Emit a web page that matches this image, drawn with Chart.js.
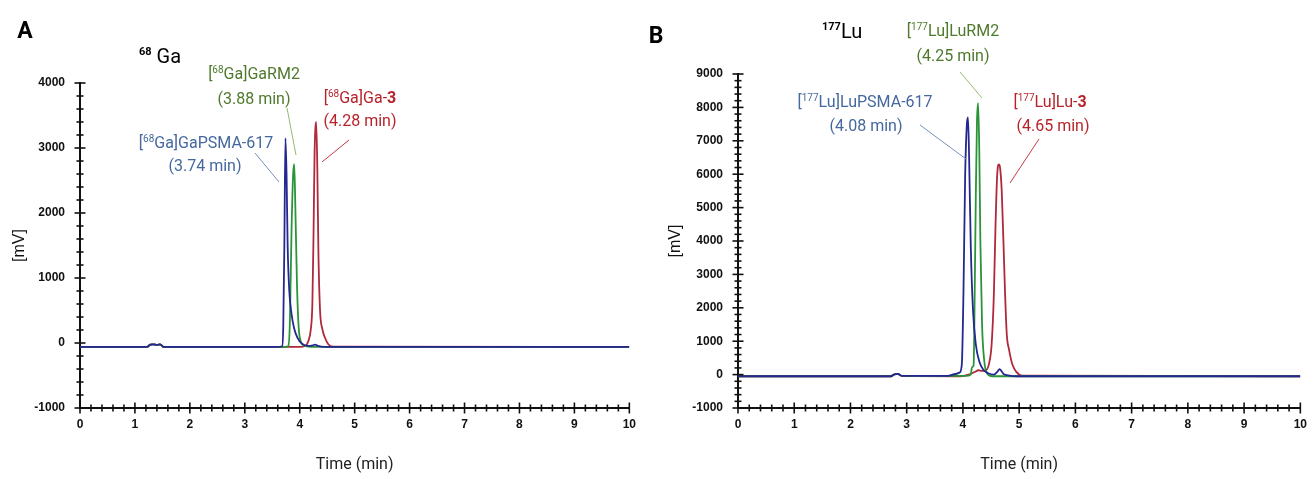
<!DOCTYPE html>
<html>
<head>
<meta charset="utf-8">
<script src="https://cdn.jsdelivr.net/npm/chart.js@4.4.1/dist/chart.umd.min.js"></script>
<style>
  html, body { margin: 0; padding: 0; background: #fff; }
  body { width: 1316px; height: 479px; position: relative; overflow: hidden; }
  canvas { position: absolute; top: 0; }
  #CanvasA { left: 0; }
  #CanvasB { left: 645px; }
</style>
</head>
<body>
<canvas id="CanvasA" width="645" height="479"></canvas>
<canvas id="CanvasB" width="671" height="479"></canvas>
<script>
// tick labels
var xTickLabels = [0, 1, 2, 3, 4, 5, 6, 7, 8, 9, 10];
var yTickLabelsA = [-1000, 0, 1000, 2000, 3000, 4000];
var yTickLabelsB = [-1000, 0, 1000, 2000, 3000, 4000, 5000, 6000, 7000, 8000, 9000];

// 68Ga traces (time in min, signal in mV)
var gaPsmaTime = [0, 1.22, 1.28, 1.34, 1.40, 1.46, 1.52, 3.60, 3.68, 3.70, 3.72, 3.74, 3.76, 3.78, 3.81, 3.85, 3.90, 3.96, 4.04, 4.15, 4.24, 4.28, 4.33, 4.45, 10];
var gaPsmaMv   = [-60, -60, -25, -20, -30, -22, -60, -60, -50, 250, 1500, 3150, 2600, 1500, 800, 450, 220, 80, -10, -45, -35, -25, -45, -60, -60];
var gaRm2Time  = [0, 1.22, 1.28, 1.34, 1.40, 1.46, 1.52, 3.74, 3.79, 3.82, 3.85, 3.88, 3.90, 3.92, 3.95, 3.98, 4.02, 4.08, 4.20, 10];
var gaRm2Mv    = [-60, -60, -25, -20, -30, -22, -60, -60, -50, 300, 1700, 2600, 2750, 2100, 900, 250, 20, -40, -60, -60];
var ga3Time    = [0, 1.22, 1.28, 1.34, 1.40, 1.46, 1.52, 4.00, 4.10, 4.16, 4.20, 4.23, 4.25, 4.27, 4.30, 4.32, 4.34, 4.37, 4.41, 4.46, 4.52, 4.60, 10];
var ga3Mv      = [-60, -60, -25, -20, -30, -22, -60, -60, -45, 40, 200, 600, 1600, 2900, 3400, 2700, 1400, 500, 220, 80, -20, -55, -60];

// 177Lu traces
var luPsmaTime = [0, 2.72, 2.78, 2.84, 2.92, 3.70, 3.85, 3.94, 3.98, 4.01, 4.04, 4.07, 4.09, 4.11, 4.14, 4.18, 4.23, 4.29, 4.36, 4.45, 4.55, 4.61, 4.65, 4.68, 4.72, 4.80, 4.95, 10];
var luPsmaMv   = [-50, -50, 10, 20, -40, -40, 10, 60, 300, 2500, 6000, 7500, 7700, 6500, 3800, 1900, 900, 400, 150, 40, 0, 80, 160, 120, 20, -20, -50, -50];
var luRm2Time  = [0, 2.72, 2.78, 2.84, 2.92, 4.05, 4.14, 4.16, 4.19, 4.21, 4.23, 4.25, 4.27, 4.29, 4.31, 4.34, 4.38, 4.43, 4.52, 10];
var luRm2Mv    = [-50, -50, 10, 20, -40, -40, 0, 220, 280, 2500, 5500, 7600, 8130, 6800, 4000, 1500, 400, 40, -50, -50];
var lu3Time    = [0, 2.72, 2.78, 2.84, 2.92, 3.95, 4.10, 4.20, 4.28, 4.34, 4.40, 4.46, 4.51, 4.55, 4.58, 4.61, 4.64, 4.66, 4.69, 4.72, 4.75, 4.78, 4.82, 4.88, 4.95, 5.05, 10];
var lu3Mv      = [-50, -50, 10, 20, -40, -50, 0, 70, 130, 110, 120, 300, 900, 2400, 4500, 6000, 6290, 6200, 5500, 4000, 2400, 1200, 750, 300, 80, -30, -50];

var BLUE = '#23278f', GREEN = '#2a9438', RED = '#b0283a';
var TXT_BLUE = '#45689e', TXT_GREEN = '#4f7a2c', TXT_RED = '#b8232b';

function toPoints(t, v) {
    return t.map(function (x, i) { return { x: x, y: v[i] }; });
}

// annotation texts and leader lines, canvas pixels
var notes = {
    CanvasA: {
        texts: [
            { x: 25, y: 38, align: 'center', color: '#000', parts: [{ t: 'A', size: 23, bold: true }] },
            { x: 139, y: 63, align: 'left', color: '#000', parts: [{ t: '68', size: 11, bold: true, rise: 8 }, { t: ' Ga', size: 20 }] },
            { x: 254, y: 79, color: TXT_GREEN, parts: [{ t: '[' }, { t: '68', sup: true }, { t: 'Ga]GaRM2' }] },
            { x: 254, y: 104, color: TXT_GREEN, parts: [{ t: '(3.88 min)' }] },
            { x: 206, y: 148, color: TXT_BLUE, parts: [{ t: '[' }, { t: '68', sup: true }, { t: 'Ga]GaPSMA-617' }] },
            { x: 205, y: 171, color: TXT_BLUE, parts: [{ t: '(3.74 min)' }] },
            { x: 360, y: 103, color: TXT_RED, parts: [{ t: '[' }, { t: '68', sup: true }, { t: 'Ga]Ga-' }, { t: '3', bold: true }] },
            { x: 360, y: 126, color: TXT_RED, parts: [{ t: '(4.28 min)' }] }
        ],
        lines: [
            { c: '#97b873', a: [287, 108], b: [296, 155] },
            { c: '#7590bd', a: [255, 153], b: [279, 182] },
            { c: '#c63a44', a: [349, 140], b: [322, 162] }
        ]
    },
    CanvasB: {
        texts: [
            { x: 11, y: 43, align: 'center', color: '#000', parts: [{ t: 'B', size: 23, bold: true }] },
            { x: 177, y: 38, align: 'left', color: '#000', parts: [{ t: '177', size: 11, bold: true, rise: 8 }, { t: 'Lu', size: 20 }] },
            { x: 308, y: 36, color: TXT_GREEN, parts: [{ t: '[' }, { t: '177', sup: true }, { t: 'Lu]LuRM2' }] },
            { x: 308, y: 61, color: TXT_GREEN, parts: [{ t: '(4.25 min)' }] },
            { x: 220, y: 107, color: TXT_BLUE, parts: [{ t: '[' }, { t: '177', sup: true }, { t: 'Lu]LuPSMA-617' }] },
            { x: 221, y: 131, color: TXT_BLUE, parts: [{ t: '(4.08 min)' }] },
            { x: 405, y: 107, color: TXT_RED, parts: [{ t: '[' }, { t: '177', sup: true }, { t: 'Lu]Lu-' }, { t: '3', bold: true }] },
            { x: 408, y: 131, color: TXT_RED, parts: [{ t: '(4.65 min)' }] }
        ],
        lines: [
            { c: '#97b873', a: [315, 72], b: [337, 98] },
            { c: '#7590bd', a: [275, 125], b: [321, 159] },
            { c: '#c63a44', a: [394, 139], b: [365, 183] }
        ]
    }
};

function fontOf(p) {
    var size = p.size || (p.sup ? 10 : 16);
    return (p.bold ? 'bold ' : '') + size + 'px Roboto, "Noto Sans", sans-serif';
}

function drawRich(ctx, n) {
    var w = 0;
    n.parts.forEach(function (p) { ctx.font = fontOf(p); w += ctx.measureText(p.t).width; });
    var x = n.align === 'left' ? n.x : n.x - w / 2;
    ctx.fillStyle = n.color;
    ctx.textBaseline = 'alphabetic';
    ctx.textAlign = 'left';
    n.parts.forEach(function (p) {
        ctx.font = fontOf(p);
        var rise = p.rise || (p.sup ? 6 : 0);
        ctx.fillText(p.t, x, n.y - rise);
        x += ctx.measureText(p.t).width;
    });
}

var notesPlugin = {
    id: 'notes',
    afterDraw: function (chart) {
        var cfg = notes[chart.canvas.id];
        var ctx = chart.ctx;
        ctx.save();
        ctx.lineWidth = 1;
        cfg.lines.forEach(function (l) {
            ctx.strokeStyle = l.c;
            ctx.beginPath();
            ctx.moveTo(l.a[0], l.a[1]);
            ctx.lineTo(l.b[0], l.b[1]);
            ctx.stroke();
        });
        cfg.texts.forEach(function (n) { drawRich(ctx, n); });
        ctx.restore();
    }
};

// tick marks that cross the axis line, longer at labelled values
var crossTicks = {
    id: 'crossTicks',
    afterDraw: function (chart) {
        var ctx = chart.ctx, area = chart.chartArea;
        var xs = chart.scales.x, ys = chart.scales.y;
        var yLabels = chart.canvas.id === 'CanvasA' ? yTickLabelsA : yTickLabelsB;
        ctx.save();
        ctx.strokeStyle = '#111';
        ctx.lineWidth = 1.6;
        xs.ticks.forEach(function (t) {
            var px = xs.getPixelForValue(t.value);
            var h = xTickLabels.indexOf(t.value) >= 0 ? 5.5 : 3.5;
            ctx.beginPath();
            ctx.moveTo(px, area.bottom - h);
            ctx.lineTo(px, area.bottom + h);
            ctx.stroke();
        });
        ys.ticks.forEach(function (t) {
            var py = ys.getPixelForValue(t.value);
            var h = yLabels.indexOf(t.value) >= 0 ? 5.5 : 3.5;
            ctx.beginPath();
            ctx.moveTo(area.left - h, py);
            ctx.lineTo(area.left + h, py);
            ctx.stroke();
        });
        ctx.restore();
    }
};

var tickFont = { family: '"Liberation Sans", Arial, sans-serif', size: 12, weight: 'bold' };

function makeChart(id, sets, yLabels, box) {
    var GKChart = document.getElementById(id).getContext('2d');
    return new Chart(GKChart, {
        type: 'line',
        data: {
            datasets: sets.map(function (s) {
                return {
                    data: toPoints(s.t, s.v),
                    borderColor: s.c,
                    borderWidth: 1.8,
                    pointRadius: 0,
                    fill: false,
                    cubicInterpolationMode: 'monotone'
                };
            })
        },
        options: {
            responsive: false,
            animation: false,
            devicePixelRatio: 1,
            layout: { padding: { left: 0, top: box.top, right: box.right, bottom: 0 } },
            plugins: { legend: { display: false }, tooltip: { enabled: false } },
            scales: {
                x: {
                    type: 'linear', min: 0, max: 10,
                    afterFit: function (s) { s.height = 71; },
                    ticks: {
                        stepSize: 0.2, maxTicksLimit: 100, autoSkip: false, maxRotation: 0,
                        padding: 9, color: '#111', font: tickFont,
                        callback: function (v) { return xTickLabels.indexOf(v) >= 0 ? String(v) : ''; }
                    },
                    grid: { display: true, drawOnChartArea: false, drawTicks: false },
                    border: { display: true, color: '#111', width: 2 },
                    title: {
                        display: true, text: 'Time (min)', color: '#222',
                        font: { family: 'Roboto, sans-serif', size: 16 },
                        padding: { top: 0, bottom: 4 }
                    }
                },
                y: {
                    type: 'linear', min: yLabels[0], max: yLabels[yLabels.length - 1],
                    afterFit: function (s) { s.width = box.left; },
                    ticks: {
                        stepSize: 200, maxTicksLimit: 100, autoSkip: false,
                        padding: 15, color: '#111', font: tickFont,
                        callback: function (v) { return yLabels.indexOf(v) >= 0 ? String(v) : ''; }
                    },
                    grid: { display: true, drawOnChartArea: false, drawTicks: false },
                    border: { display: true, color: '#111', width: 2 },
                    title: {
                        display: true, text: '[mV]', color: '#111',
                        font: { family: '"Liberation Sans", Arial, sans-serif', size: 16 },
                        padding: { top: box.titlePad, bottom: 0 }
                    }
                }
            }
        },
        plugins: [crossTicks, notesPlugin]
    });
}

makeChart('CanvasA', [
    { t: gaPsmaTime, v: gaPsmaMv, c: BLUE },
    { t: gaRm2Time, v: gaRm2Mv, c: GREEN },
    { t: ga3Time, v: ga3Mv, c: RED }
], yTickLabelsA, { top: 83, right: 12, left: 80, titlePad: 10 });

makeChart('CanvasB', [
    { t: luPsmaTime, v: luPsmaMv, c: BLUE },
    { t: luRm2Time, v: luRm2Mv, c: GREEN },
    { t: lu3Time, v: lu3Mv, c: RED }
], yTickLabelsB, { top: 74, right: 11, left: 93, titlePad: 21 });
</script>
</body>
</html>
